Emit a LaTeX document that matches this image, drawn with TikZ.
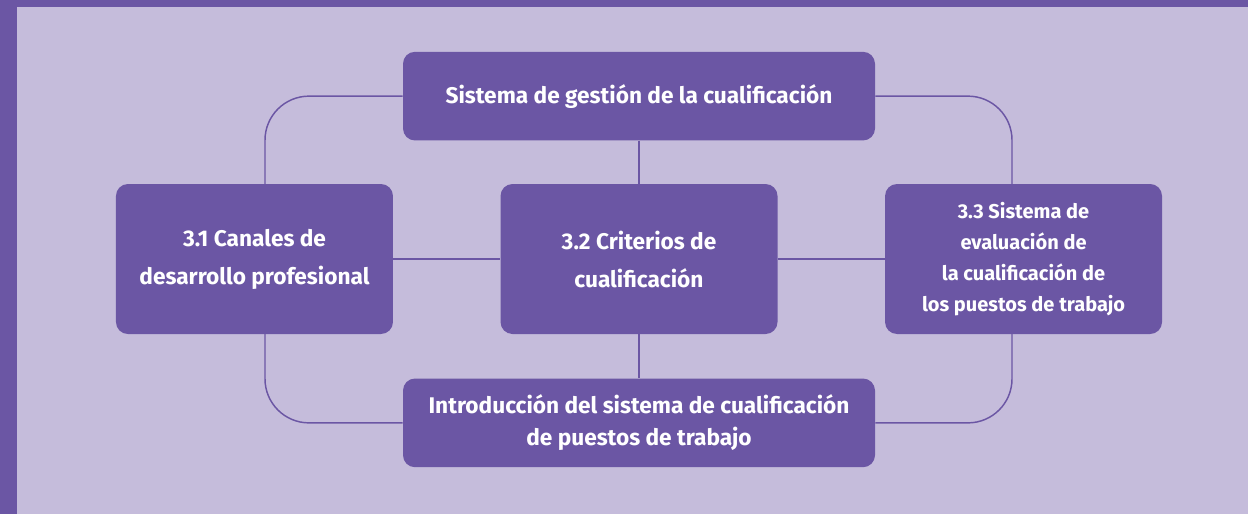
\documentclass[tikz,border=0pt]{standalone}
\usepackage{fontspec}
\setmainfont{Fira Sans}
\usepackage{tikz}
\usetikzlibrary{positioning, backgrounds}
\definecolor{mypurple}{RGB}{107, 86, 164}
\definecolor{mylilac}{RGB}{197, 188, 219}

\begin{document}
\begin{tikzpicture}
[x=0.75pt, y=-0.75pt,
 box/.style={rectangle, rounded corners=9pt, fill=mypurple, text=white,
   font=\bfseries\fontsize{17}{28.5}\selectfont, align=center, inner sep=2pt},
 wide/.style={box, minimum width=354pt, minimum height=66.5pt},
 side/.style={box, minimum width=207.75pt, minimum height=112.5pt},
 link/.style={draw=mypurple, line width=1.1pt, rounded corners=33pt}]

% the three boxes in the middle row
\node[side] (mid) at (639, 259) {3.2 Criterios de\\cualificación};
\node[side] (cana) [left = 80.25pt of mid] {3.1 Canales de\\desarrollo profesional};
\node[side, font=\bfseries\fontsize{15}{23.25}\selectfont] (eval) [right = 80.25pt of mid]
  {3.3 Sistema de\\evaluación de\\la cualificación de\\los puestos de trabajo};

% top and bottom boxes
\node[wide] (gest) [above = 32.25pt of mid] {Sistema de gestión de la cualificación};
\node[wide, font=\bfseries\fontsize{17}{24}\selectfont] (intro) [below = 33pt of mid]
  {Introducción del sistema de cualificación\\de puestos de trabajo};

\coordinate (lp) at (265, 259);
\coordinate (rp) at (1012, 259);

\begin{scope}[on background layer]
  \fill[mypurple] (0, 0) rectangle (1248, 514);
  \fill[mylilac] (17, 7) rectangle (1248, 514);
  \draw[link] (gest) -| (lp) |- (intro);
  \draw[link] (gest) -| (rp) |- (intro);
  \draw[link] (cana) -- (mid);
  \draw[link] (mid) -- (eval);
  \draw[link] (gest) -- (mid);
  \draw[link] (mid) -- (intro);
\end{scope}

\useasboundingbox (0, 0) rectangle (1248, 514);
\end{tikzpicture}
\end{document}
